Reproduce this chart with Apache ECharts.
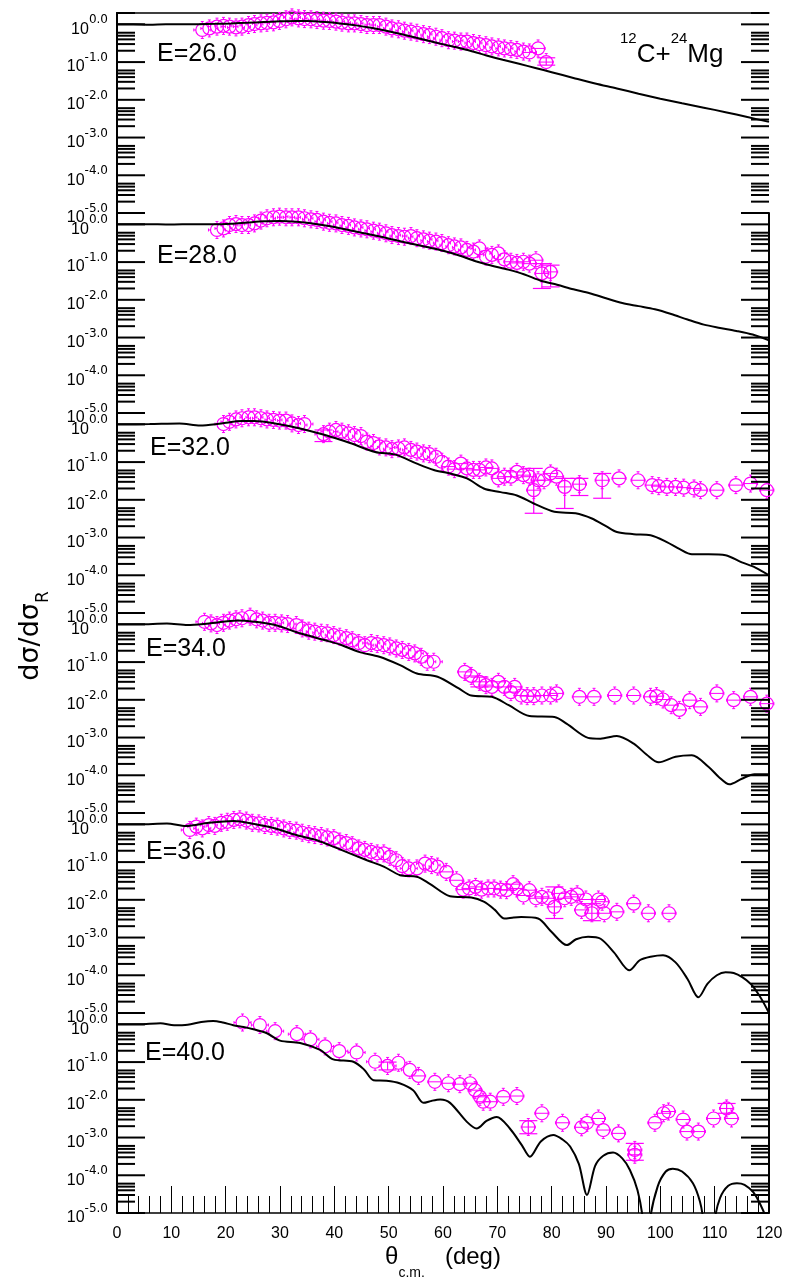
<!DOCTYPE html>
<html><head><meta charset="utf-8">
<script src="https://cdn.jsdelivr.net/npm/echarts@6/dist/echarts.min.js"></script>
<style>html,body{margin:0;padding:0;background:#fff}#c{width:795px;height:1281px}</style>
</head><body><div id="c"></div>
<script>
// ---------------- data ----------------
const panelLabels = ['E=26.0','E=28.0','E=32.0','E=34.0','E=36.0','E=40.0'];
const yExponents = [-5,-4,-3,-2,-1,0];
const minorMults = [2,3,4,5,6];

// theory curves (angle in deg, dsigma/dsigma_R)
const thAng26 = [0,3,6,9,12,15,18,21,24,27,30,33,35,37,39,41,44,47,50,53,56,59,62,65,68,71,74,77,80,84,88,92,96,100,104,108,112,116,120];
const thVal26 = [1.0,1.0,0.98,1.0,1.0,1.01,1.03,1.06,1.1,1.15,1.2,1.23,1.22,1.19,1.13,1.06,0.94,0.8,0.66,0.52,0.41,0.32,0.255,0.2,0.15,0.115,0.09,0.07,0.054,0.038,0.027,0.02,0.0145,0.0107,0.0081,0.0062,0.0047,0.0035,0.0026];
const thAng28 = [0,3,6,9,12,15,18,21,24,27,30,33,36,39,42,45,48,51,54,57,60,63,66,69,72,75,78,81,84,87,90,93,96,99,102,105,108,111,114,117,120];
const thVal28 = [1.0,1.0,1.01,0.99,1.0,1.0,1.0,1.04,1.12,1.2,1.22,1.17,1.06,0.9,0.74,0.6,0.49,0.39,0.31,0.25,0.2,0.15,0.105,0.08,0.063,0.047,0.032,0.025,0.019,0.015,0.011,0.0082,0.0068,0.0056,0.0042,0.003,0.0022,0.0018,0.0015,0.0012,0.00085];
const thAng32 = [0,6,11.5,15.3,19.2,23,25.3,29.1,33.7,38.3,42.9,47.5,51.4,55.2,58.3,61.3,64.4,67.5,70.6,73.6,76.7,80.5,84.4,87.4,90,92,95.1,98.2,101.2,103.5,105.8,108.9,112,115,117.5,120];
const thVal32 = [1.0,1.02,1.06,0.93,1.06,1.23,1.23,1.06,0.78,0.52,0.32,0.186,0.155,0.091,0.062,0.05,0.037,0.02,0.016,0.013,0.008,0.0048,0.0044,0.0032,0.002,0.0014,0.00123,0.00115,0.00076,0.0005,0.00036,0.00036,0.00034,0.00022,0.00016,0.0001];
const thAng34 = [0,4,9.2,13,16.9,22.2,25.3,29.1,33.7,38.3,41.4,44.5,48.3,52.1,55.2,59,62.9,65.2,69,72.1,75.9,80.5,82.8,86.7,89,92,95.1,97.5,99.7,102.8,105.8,108.9,110.8,112.7,115,117.3,120];
const thVal34 = [1.0,1.0,1.06,0.96,1.06,1.26,1.17,0.96,0.58,0.38,0.28,0.186,0.138,0.083,0.05,0.041,0.02,0.013,0.012,0.0072,0.0037,0.0035,0.0023,0.00098,0.00093,0.0011,0.00069,0.00035,0.00022,0.00031,0.00034,0.000166,0.000089,0.0000575,0.000081,0.000107,0.000107];
const thAng36 = [0,4,9.2,12.7,16.9,21.5,25.3,29.1,33,36.8,40.6,46,49.1,52.1,55.2,57.5,61.3,65.2,67.5,69.5,71.3,73,74.4,77.5,80,82.8,84.5,86.7,89,91.5,94.3,96.2,98.2,100.5,102.8,105,107,108.7,110.4,112,113.5,116.6,118.5,120];
const thVal36 = [1.0,1.0,1.06,0.91,1.1,1.23,1.02,0.78,0.52,0.38,0.23,0.112,0.076,0.045,0.041,0.027,0.0125,0.0115,0.0089,0.0055,0.0032,0.0034,0.0035,0.0032,0.0014,0.00063,0.0009,0.00105,0.00093,0.0004,0.000135,0.00025,0.00031,0.00034,0.00022,0.00008,0.000026,0.00006,0.0001,0.00012,0.000115,0.00006,0.000025,0.00001];
const thAng40 = [0,4,8,10.5,13,15.5,17.7,19.5,21.4,23.3,25.1,27.6,30,33.7,37.4,39.8,43.5,45.5,47.2,49.6,52,54.5,56.4,58,59.5,61.3,64.4,66.2,68,69.9,72.3,74.5,76,78,80.3,82,83.4,85,86.5,88,89.5,91.3,93,94.4,95.8,96.8,97.5,98.1,99.5,101,102.3,104,106,107.3,107.9,109,110,111,112.5,114.1,115.5,117.1,118.5,119.6,120];
const thVal40 = [1.0,1.0,1.07,0.95,0.98,1.15,1.23,1.12,0.95,0.85,0.74,0.58,0.37,0.32,0.21,0.118,0.102,0.063,0.033,0.032,0.0275,0.018,0.0083,0.0095,0.0102,0.0083,0.0026,0.00174,0.00275,0.0035,0.00174,0.00063,0.00031,0.00079,0.00117,0.00089,0.00058,0.0002,0.00003,0.000178,0.00033,0.0004,0.00028,0.000138,0.00004,0.0000063,0.0000001,0.0000063,0.00005,0.000126,0.00015,0.000126,0.0000617,0.00002,0.0000063,0.0000001,0.0000063,0.000025,0.0000525,0.0000617,0.000056,0.0000355,0.0000158,0.0000063,0.000002];

// experimental points
const ang26 = [15.7,17.0,18.4,19.6,20.7,21.9,23.0,24.2,25.3,26.5,27.6,28.8,29.9,31.1,32.2,33.4,34.5,35.7,36.8,38.0,39.1,40.3,41.4,42.6,43.7,44.9,46.0,47.2,48.3,49.5,50.6,51.8,52.9,54.1,55.2,56.4,57.5,58.7,59.8,61.0,62.1,63.3,64.4,65.6,66.7,67.9,69.0,70.2,71.3,72.5,73.6,74.8,75.9,77.5,79.0];
const sig26 = [0.71,0.78,0.87,0.91,0.87,0.83,0.87,0.96,1.02,1.06,1.10,1.13,1.23,1.36,1.53,1.44,1.38,1.36,1.30,1.25,1.23,1.18,1.11,1.06,1.06,1.02,0.96,0.96,0.96,0.87,0.78,0.74,0.68,0.64,0.60,0.55,0.52,0.47,0.43,0.38,0.37,0.35,0.35,0.32,0.30,0.28,0.26,0.245,0.23,0.22,0.21,0.19,0.18,0.23,0.10];
const ang28 = [18.4,19.6,20.7,21.9,23.0,24.2,25.3,26.5,27.6,28.8,29.9,31.1,32.2,33.4,34.5,35.7,36.8,38.0,39.1,40.3,41.4,42.6,43.7,44.9,46.0,47.2,48.3,49.5,50.6,51.8,52.9,54.1,55.2,56.4,57.5,58.7,59.8,61.0,62.1,63.3,64.4,65.6,66.7,67.9,69.0,70.2,71.3,72.5,73.6,74.8,75.9,77.1,78.2,79.8];
const sig28 = [0.71,0.78,0.96,1.02,0.96,0.96,1.06,1.26,1.45,1.54,1.60,1.54,1.54,1.54,1.45,1.36,1.31,1.18,1.10,1.06,0.96,0.91,0.83,0.78,0.74,0.68,0.64,0.58,0.52,0.49,0.47,0.49,0.43,0.40,0.37,0.35,0.32,0.28,0.26,0.245,0.21,0.19,0.23,0.14,0.155,0.17,0.118,0.102,0.095,0.102,0.091,0.112,0.05,0.055];
const ang32 = [19.6,20.7,21.9,23.0,24.2,25.3,26.5,27.6,28.8,29.9,31.1,32.2,33.4,34.5,38.0,39.1,40.3,41.4,42.6,43.7,44.9,46.0,47.2,48.3,49.5,50.6,51.8,52.9,54.1,55.2,56.4,57.5,58.7,59.8,61.0,62.1,63.3,64.4,65.6,66.7,67.9,69.0,70.2,71.3,72.5,73.6,74.8,75.9,76.7,77.5,78.6,79.8,80.9,82.4,85.1,89.3,92.4,95.9,98.5,99.7,101.2,102.8,104.3,106.2,107.4,110.4,113.9,116.6,119.6];
const sig32 = [1.02,1.17,1.35,1.45,1.54,1.54,1.45,1.35,1.31,1.26,1.26,1.06,0.96,1.02,0.55,0.64,0.71,0.64,0.58,0.52,0.49,0.35,0.32,0.26,0.245,0.22,0.23,0.245,0.21,0.19,0.17,0.162,0.138,0.102,0.076,0.065,0.091,0.068,0.062,0.062,0.072,0.068,0.037,0.041,0.041,0.055,0.045,0.041,0.018,0.033,0.033,0.05,0.041,0.022,0.026,0.033,0.037,0.033,0.0245,0.023,0.022,0.022,0.021,0.020,0.018,0.018,0.0245,0.027,0.018];
const ang34 = [16.1,17.3,18.4,19.6,20.7,21.9,23.0,24.5,25.7,26.8,28.0,29.1,30.3,31.4,33.0,34.1,35.3,36.4,37.6,38.7,39.9,41.0,42.2,43.3,44.5,45.6,46.8,47.9,49.1,50.2,51.4,52.5,53.7,54.8,56.0,57.1,58.3,64.0,65.2,66.7,67.9,69.0,70.2,71.3,72.5,73.2,74.4,75.5,76.7,78.2,79.8,80.9,85.1,87.8,91.6,95.1,98.2,99.3,100.5,102.0,103.5,105.4,107.4,110.4,113.5,116.6,119.6];
const sig34 = [1.17,1.06,0.96,1.10,1.26,1.36,1.45,1.60,1.36,1.26,1.10,1.10,1.06,1.02,0.96,0.78,0.68,0.64,0.60,0.58,0.52,0.47,0.43,0.38,0.32,0.28,0.32,0.30,0.28,0.26,0.23,0.21,0.186,0.17,0.138,0.102,0.102,0.055,0.043,0.030,0.0245,0.022,0.030,0.022,0.016,0.022,0.013,0.0125,0.0125,0.013,0.013,0.0148,0.012,0.012,0.013,0.013,0.012,0.0125,0.0102,0.0072,0.0054,0.0098,0.0065,0.0148,0.0098,0.012,0.0079];
const ang36 = [13.4,14.6,15.7,16.9,18.0,19.2,20.3,21.5,22.6,23.8,24.9,26.1,27.2,28.4,29.5,30.7,31.8,33.0,34.1,35.3,36.4,37.6,38.7,39.9,41.0,42.2,43.3,44.5,45.6,46.8,47.9,49.1,50.2,51.4,52.5,53.7,55.2,56.7,57.9,59.0,60.6,62.5,63.7,64.8,66.0,67.1,68.3,69.4,70.6,71.7,72.9,73.6,74.8,75.9,77.1,78.2,79.4,80.5,81.3,82.4,83.6,84.7,85.5,86.3,87.4,88.6,89.3,89.7,92.0,95.1,97.8,101.6];
const sig36 = [0.71,0.87,0.78,0.96,0.91,1.10,1.17,1.31,1.36,1.26,1.10,1.06,0.96,0.91,0.87,0.78,0.71,0.68,0.60,0.55,0.52,0.49,0.45,0.43,0.35,0.32,0.28,0.23,0.21,0.186,0.17,0.17,0.138,0.112,0.078,0.068,0.068,0.091,0.083,0.076,0.055,0.033,0.0186,0.020,0.022,0.0186,0.020,0.020,0.0186,0.018,0.026,0.020,0.013,0.018,0.011,0.012,0.011,0.0065,0.0148,0.011,0.012,0.014,0.0054,0.0102,0.0044,0.0102,0.0089,0.0044,0.0048,0.0079,0.0044,0.0044];
const ang40 = [23.1,26.3,29.1,33.1,35.6,38.3,40.9,44.1,47.5,49.8,51.8,53.9,55.5,58.5,61.0,63.1,65.0,65.9,66.8,67.4,68.7,71.1,73.6,75.7,78.2,82.0,85.5,86.5,88.6,89.5,92.3,95.3,95.3,99.0,100.6,101.5,104.2,104.9,107.0,109.8,112.2,113.1];
const sig40 = [1.12,0.96,0.66,0.55,0.40,0.26,0.195,0.18,0.102,0.079,0.096,0.062,0.043,0.030,0.0275,0.026,0.0275,0.018,0.012,0.0089,0.0089,0.012,0.0126,0.0019,0.0044,0.00246,0.00187,0.00246,0.0032,0.00158,0.00129,0.00047,0.00035,0.00246,0.0044,0.0049,0.0030,0.00144,0.00144,0.0032,0.0059,0.0032];

// visible vertical error bars: [angle, low, high]
const err26 = [[79.0,0.083,0.13]];
const err28 = [[78.2,0.02,0.091],[79.8,0.022,0.083]];
const err32 = [[38.0,0.35,0.71],[76.7,0.0044,0.068],[82.4,0.0059,0.037],[85.1,0.013,0.037],[89.3,0.011,0.05]];
const err34 = [[66.7,0.022,0.04]];
const err36 = [[80.5,0.0032,0.022],[87.4,0.0028,0.0079]];
const err40 = [[49.8,0.062,0.1],[75.7,0.00126,0.0028],[95.3,0.00025,0.0007],[112.2,0.0044,0.008]];
// angular half-width of the horizontal error bars, and the angle from which they are visible
const xErrHalf = [1.3,1.3,1.3,1.3,1.3,1.3];
const xErrFrom = [75,72,60,60,60,55];

// ---------------- layout ----------------
const FONT = 'Liberation Sans';
const MAG = '#ff00ff';
const panelTheory = [[thAng26,thVal26],[thAng28,thVal28],[thAng32,thVal32],[thAng34,thVal34],[thAng36,thVal36],[thAng40,thVal40]];
const panelExp = [[ang26,sig26],[ang28,sig28],[ang32,sig32],[ang34,sig34],[ang36,sig36],[ang40,sig40]];
const panelErr = [err26,err28,err32,err34,err36,err40];
const labelPos = [[157,54],[157,256],[150,448],[146,649],[146,852],[145,1053]];

const GL = 117, GW = 652, GT = 13, GH = 200;

const tickData = [];
yExponents.forEach(e => {
  tickData.push([0, Math.pow(10, e), 1]);
  minorMults.forEach(k => {
    const v = k * Math.pow(10, e);
    if (v <= 2.0001) tickData.push([0, v, 0]);
  });
});

function yFmt(v) {
  const e = Math.log10(v);
  const r = Math.round(e);
  if (Math.abs(e - r) > 1e-6) return '';
  return '{b|10}{s|' + (r === 0 ? 0 : r).toFixed(1) + '}';
}

function tickItem(params, api) {
  const v = api.value(1), major = api.value(2);
  const pL = api.coord([0, v]), pR = api.coord([120, v]);
  const len = major ? 28 : 18;
  const st = {stroke:'#000', lineWidth:2};
  return {type:'group', children:[
    {type:'line', shape:{x1:pL[0], y1:pL[1], x2:pL[0]+len, y2:pL[1]}, style:st},
    {type:'line', shape:{x1:pR[0]-len, y1:pR[1], x2:pR[0], y2:pR[1]}, style:st}
  ]};
}

function makePointItem(panel) {
  return function (params, api) {
    const a = api.value(0), v = api.value(1);
    const c = api.coord([a, v]);
    const r = 6.5, s = 2, h = 1.5;
    const st = {stroke:MAG, lineWidth:1, fill:'none'};
    const x = c[0], y = c[1];
    const ch = [
      {type:'circle', shape:{cx:x, cy:y, r:r}, style:{stroke:MAG, lineWidth:1.2, fill:'none'}},
      {type:'line', shape:{x1:x, y1:y-r, x2:x, y2:y-r-s}, style:st},
      {type:'line', shape:{x1:x-h, y1:y-r-s, x2:x+h, y2:y-r-s}, style:st},
      {type:'line', shape:{x1:x, y1:y+r, x2:x, y2:y+r+s}, style:st},
      {type:'line', shape:{x1:x-h, y1:y+r+s, x2:x+h, y2:y+r+s}, style:st}
    ];
    if (a >= xErrFrom[panel]) {
      const pl = api.coord([a - xErrHalf[panel], v]), pr = api.coord([a + xErrHalf[panel], v]);
      ch.push({type:'line', shape:{x1:pl[0], y1:y, x2:pr[0], y2:y}, style:st});
      ch.push({type:'line', shape:{x1:pl[0], y1:y-h, x2:pl[0], y2:y+h}, style:st});
      ch.push({type:'line', shape:{x1:pr[0], y1:y-h, x2:pr[0], y2:y+h}, style:st});
    } else {
      ch.push({type:'line', shape:{x1:x-r, y1:y, x2:x-r-s, y2:y}, style:st});
      ch.push({type:'line', shape:{x1:x-r-s, y1:y-h, x2:x-r-s, y2:y+h}, style:st});
      ch.push({type:'line', shape:{x1:x+r, y1:y, x2:x+r+s, y2:y}, style:st});
      ch.push({type:'line', shape:{x1:x+r+s, y1:y-h, x2:x+r+s, y2:y+h}, style:st});
    }
    return {type:'group', children:ch};
  };
}

function errItem(params, api) {
  const x = api.value(0);
  const lo = api.coord([x, api.value(1)]), hi = api.coord([x, api.value(2)]);
  const st = {stroke:MAG, lineWidth:1.2};
  const w = 9;
  return {type:'group', children:[
    {type:'line', shape:{x1:lo[0], y1:lo[1], x2:hi[0], y2:hi[1]}, style:st},
    {type:'line', shape:{x1:lo[0]-w, y1:lo[1], x2:lo[0]+w, y2:lo[1]}, style:st},
    {type:'line', shape:{x1:hi[0]-w, y1:hi[1], x2:hi[0]+w, y2:hi[1]}, style:st}
  ]};
}

const grids = [], xAxes = [], yAxes = [], series = [], graphics = [];
for (let i = 0; i < 6; i++) {
  const last = i === 5;
  grids.push({left:GL, top:GT + GH*i, width:GW, height:GH});
  xAxes.push({
    type:'value', gridIndex:i, min:0, max:120, interval:10,
    axisLine:{show:last, onZero:false, lineStyle:{color:'#000', width:1.5}},
    axisTick:{show:last, inside:true, length:27, lineStyle:{color:'#000', width:1}},
    minorTick:{show:last, splitNumber:5, length:17, lineStyle:{color:'#000', width:1}},
    splitLine:{show:false}, minorSplitLine:{show:false},
    axisLabel:{show:last, fontSize:16, color:'#000', fontFamily:FONT, margin:13},
    name: last ? '{t|θ}{s|c.m.}{t|   (deg)}' : '',
    nameLocation:'middle', nameGap:32,
    nameTextStyle:{color:'#000', fontFamily:FONT, rich:{
      t:{fontSize:24, fontFamily:FONT, color:'#000', verticalAlign:'top'},
      s:{fontSize:14, fontFamily:FONT, color:'#000', verticalAlign:'top', padding:[21,0,0,0]}
    }}
  });
  const yBase = {
    type:'log', logBase:10, gridIndex:i, min:1e-5, max:2,
    axisTick:{show:false}, minorTick:{show:false}, splitLine:{show:false}, minorSplitLine:{show:false},
    axisLine:{show:true, lineStyle:{color:'#000', width:2}}
  };
  yAxes.push(Object.assign({}, yBase, {
    position:'left',
    axisLabel:{show:true, formatter:yFmt, margin:9, padding:[3,0,0,0], color:'#000', fontFamily:FONT,
      rich:{
        b:{fontSize:16, fontFamily:FONT, color:'#000', verticalAlign:'bottom', padding:[7,0,0,0]},
        s:{fontSize:12, fontFamily:'DejaVu Sans', color:'#000', verticalAlign:'top'}
      }}
  }));
  yAxes.push(Object.assign({}, yBase, {position:'right', axisLabel:{show:false}}));

  const yl = 2*i;
  series.push({
    type:'custom', name:'ticks'+i, xAxisIndex:i, yAxisIndex:yl, silent:true, z:5,
    renderItem:tickItem, data:tickData, encode:{x:0, y:1}
  });
  const ex = panelExp[i];
  series.push({
    type:'custom', name:panelLabels[i]+' data', xAxisIndex:i, yAxisIndex:yl, z:2,
    renderItem:makePointItem(i), data:ex[0].map((a,k)=>[a, ex[1][k]]), encode:{x:0, y:1}
  });
  series.push({
    type:'custom', name:panelLabels[i]+' errors', xAxisIndex:i, yAxisIndex:yl, z:2,
    renderItem:errItem, data:panelErr[i], encode:{x:0, y:[1,2]}
  });
  const th = panelTheory[i];
  series.push({
    type:'line', name:panelLabels[i]+' calc', xAxisIndex:i, yAxisIndex:yl, z:3,
    data:th[0].map((a,k)=>[a, th[1][k]]), showSymbol:false, symbol:'none', smooth:0.3,
    clip:true, lineStyle:{color:'#000', width:2}
  });
  graphics.push({type:'text', x:labelPos[i][0], y:labelPos[i][1], z:10,
    style:{text:panelLabels[i], fontSize:25, fontFamily:FONT, fill:'#000', verticalAlign:'middle'}});
}
// top frame line
xAxes.push({type:'value', gridIndex:0, position:'top', min:0, max:120,
  axisLine:{show:true, onZero:false, lineStyle:{color:'#000', width:1.5}},
  axisTick:{show:false}, axisLabel:{show:false}, splitLine:{show:false}});

graphics.push({type:'text', x:620, y:31, z:10,
  style:{text:'{s|12}{b|C+}{s|24}{b|Mg}', verticalAlign:'top', fill:'#000', fontFamily:FONT,
    rich:{
      s:{fontSize:15, fontFamily:FONT, fill:'#000', verticalAlign:'top'},
      b:{fontSize:26, fontFamily:FONT, fill:'#000', verticalAlign:'bottom', padding:[11,0,0,0]}
    }}});
graphics.push({type:'text', x:35, y:636, rotation:Math.PI/2, z:10,
  style:{text:'{t|dσ/dσ}{s|R}', align:'center', verticalAlign:'middle', fill:'#000', fontFamily:'DejaVu Sans',
    rich:{
      t:{fontSize:27, fontFamily:'DejaVu Sans', fill:'#000', verticalAlign:'top'},
      s:{fontSize:17, fontFamily:'DejaVu Sans', fill:'#000', verticalAlign:'top', padding:[18,0,0,0]}
    }}});

const chart = echarts.init(document.getElementById('c'), null, {renderer:'canvas'});
chart.setOption({
  animation:false,
  backgroundColor:'#fff',
  textStyle:{fontFamily:FONT},
  grid:grids, xAxis:xAxes, yAxis:yAxes, series:series, graphic:graphics
});
</script>
</body></html>
